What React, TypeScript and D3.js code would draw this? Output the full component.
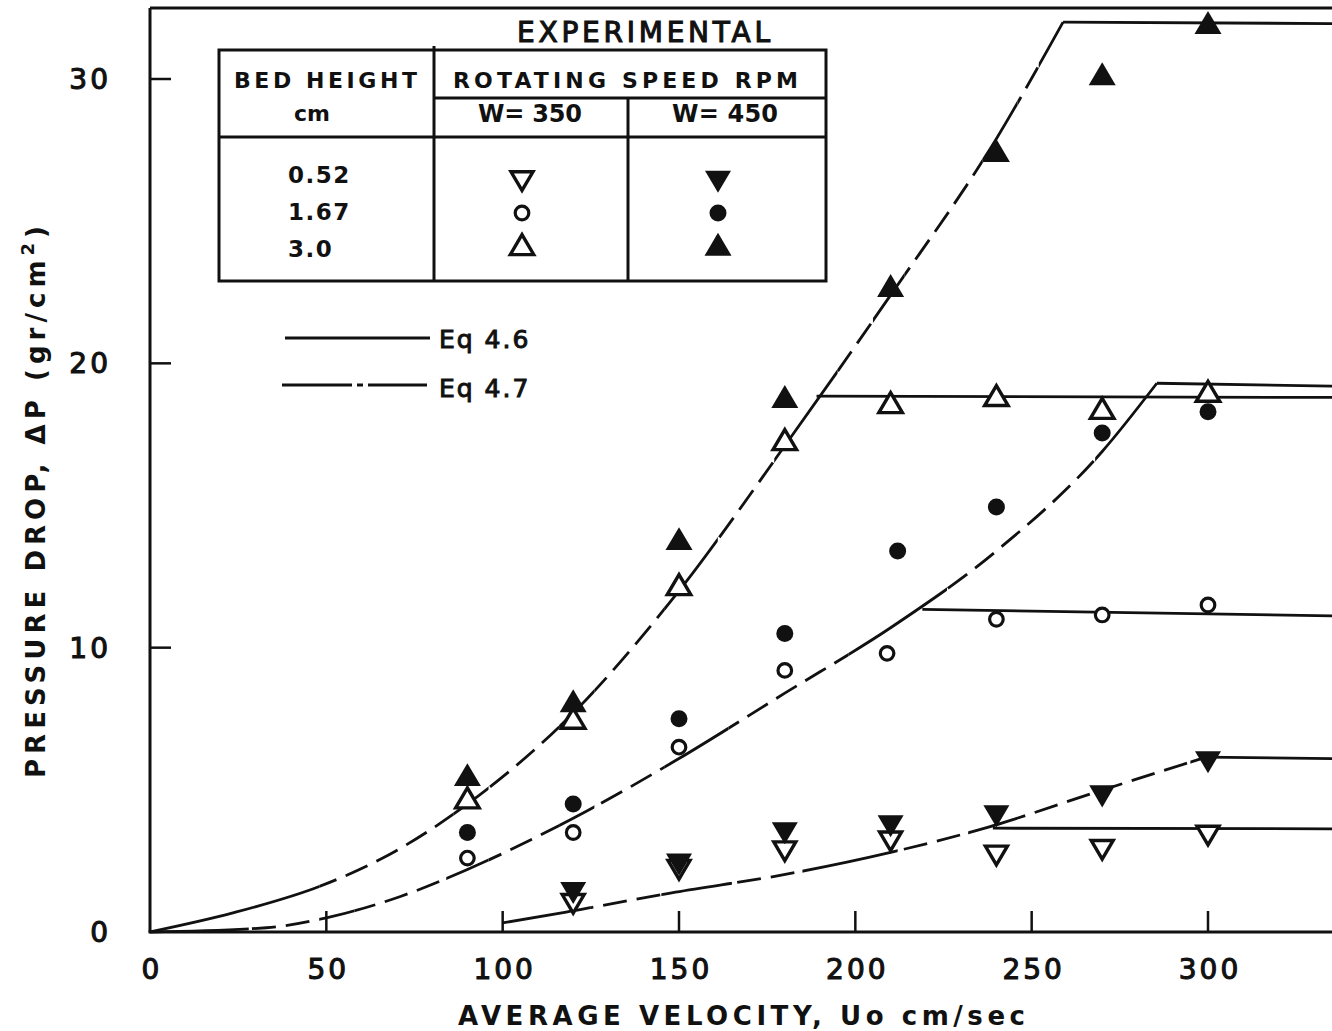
import React from 'react';
import * as d3 from 'd3';

// ---------- data ----------
const xTicks = [0, 50, 100, 150, 200, 250, 300];
const yTicks = [0, 10, 20, 30];

// Eq. curves (rising parts)
const curveA_u = [0, 23.5, 48, 66, 90, 120, 150, 180, 210, 240, 258.9];
const curveA_dp = [0, 0.67, 1.6, 2.6, 4.5, 7.7, 12.0, 17.1, 22.4, 27.9, 32.0];
const curveB_u = [0, 33, 50, 71, 90, 120, 150, 180, 210, 240, 270, 285.5];
const curveB_dp = [0, 0.15, 0.5, 1.25, 2.2, 4.0, 6.1, 8.4, 10.7, 13.4, 16.9, 19.3];
const curveE_u = [100, 118, 149, 179, 210, 238, 269, 299.5];
const curveE_dp = [0.32, 0.7, 1.4, 2.0, 2.8, 3.7, 4.95, 6.15];

// flat plateaus
const tailA_u = [258.9, 335.2];
const tailA_dp = [32.0, 31.95];
const tailB_u = [285.5, 335.2];
const tailB_dp = [19.3, 19.2];
const flatC_u = [189, 335.2];
const flatC_dp = [18.85, 18.8];
const flatD_u = [219, 335.2];
const flatD_dp = [11.35, 11.12];
const tailE_u = [299.5, 335.2];
const tailE_dp = [6.15, 6.1];
const flatE2_u = [239, 335.2];
const flatE2_dp = [3.65, 3.63];

// solid portions of the mixed solid/dashed curves (velocity ranges)
const solidA = [[0, 48], [86, 96], [116, 126], [146, 161], [177, 195], [205, 214], [236, 246], [252, 260]];
const solidB = [[0, 28], [48, 58], [84, 96], [116, 126], [146, 164], [198, 226], [268, 286]];
const solidE = [[100, 125], [145, 165], [185, 212], [232, 245], [295, 300]];

// experimental points
const u_all = [90, 120, 150, 180, 210, 240, 270, 300];
const u_low = [120, 150, 180, 210, 240, 270, 300];
const dnOpen_dp = [1.1, 2.3, 2.95, 3.3, 2.8, 3.0, 3.5];
const dnFill_dp = [1.5, 2.5, 3.6, 3.85, 4.2, 4.9, 6.1];
const circOpen_u = [90, 120, 150, 180, 209, 240, 270, 300];
const circOpen_dp = [2.6, 3.5, 6.5, 9.2, 9.8, 11.0, 11.15, 11.5];
const circFill_u = [90, 120, 150, 180, 212, 240, 270, 300];
const circFill_dp = [3.5, 4.5, 7.5, 10.5, 13.4, 14.95, 17.55, 18.3];
const triOpen_dp = [4.6, 7.4, 12.1, 17.2, 18.5, 18.75, 18.3, 18.9];
const triFill_dp = [5.4, 8.0, 13.7, 18.7, 22.6, 27.35, 30.05, 31.85];

const bedHeights = ['0.52', '1.67', '3.0'];

// ---------- helpers ----------
const x = d3.scaleLinear().domain([0, 300]).range([150, 1208]);
const y = d3.scaleLinear().domain([0, 30]).range([932, 79]);

const smooth = d3.line<[number, number]>().x(d => x(d[0])).y(d => y(d[1])).curve(d3.curveMonotoneX);
const straight = d3.line<[number, number]>().x(d => x(d[0])).y(d => y(d[1]));
const zip = (a: number[], b: number[]) => a.map((v, i) => [v, b[i]] as [number, number]);

function complement(r: number[][], lo: number, hi: number) {
  const out: number[][] = [];
  let cur = lo;
  r.forEach(([a, b]) => {
    if (a > cur) out.push([cur, a]);
    cur = Math.max(cur, b);
  });
  if (cur < hi) out.push([cur, hi]);
  return out;
}

function triPath(w: number, up: boolean) {
  const h = w * 0.85;
  const s = up ? 1 : -1;
  return `M0,${(-2 * h / 3) * s}L${-w / 2},${(h / 3) * s}L${w / 2},${(h / 3) * s}Z`;
}

const INK = '#111';
const FONT = '"DejaVu Sans", sans-serif';

function Marker({ kind, cx, cy }: { kind: string; cx: number; cy: number }) {
  switch (kind) {
    case 'triOpen':
      return <path d={triPath(23.5, true)} transform={`translate(${cx},${cy})`} fill="#fff" stroke={INK} strokeWidth={3.4} strokeLinejoin="miter" />;
    case 'triFill':
      return <path d={triPath(27, true)} transform={`translate(${cx},${cy})`} fill={INK} />;
    case 'dnOpen':
      return <path d={triPath(22, false)} transform={`translate(${cx},${cy})`} fill="#fff" stroke={INK} strokeWidth={3.4} />;
    case 'dnFill':
      return <path d={triPath(26, false)} transform={`translate(${cx},${cy})`} fill={INK} />;
    case 'circOpen':
      return <circle cx={cx} cy={cy} r={6.8} fill="#fff" stroke={INK} strokeWidth={3.2} />;
    default:
      return <circle cx={cx} cy={cy} r={8.5} fill={INK} />;
  }
}

function MixedCurve({ id, u, dp, solid, lo, hi }: { id: string; u: number[]; dp: number[]; solid: number[][]; lo: number; hi: number }) {
  const d = smooth(zip(u, dp)) as string;
  const dashed = complement(solid, lo, hi);
  return (
    <g>
      <defs>
        <clipPath id={`${id}-s`}>
          {solid.map(([a, b], i) => <rect key={i} x={x(a)} y={0} width={x(b) - x(a)} height={1031} />)}
        </clipPath>
        <clipPath id={`${id}-d`}>
          {dashed.map(([a, b], i) => <rect key={i} x={x(a)} y={0} width={x(b) - x(a)} height={1031} />)}
        </clipPath>
      </defs>
      <path d={d} fill="none" stroke={INK} strokeWidth={2.8} clipPath={`url(#${id}-s)`} />
      <path d={d} fill="none" stroke={INK} strokeWidth={2.8} strokeDasharray="24,10" clipPath={`url(#${id}-d)`} />
    </g>
  );
}

export default function App() {
  const flats = [
    zip(tailA_u, tailA_dp), zip(tailB_u, tailB_dp), zip(flatC_u, flatC_dp),
    zip(flatD_u, flatD_dp), zip(tailE_u, tailE_dp), zip(flatE2_u, flatE2_dp),
  ];
  const series = [
    { kind: 'dnOpen', u: u_low, dp: dnOpen_dp },
    { kind: 'circOpen', u: circOpen_u, dp: circOpen_dp },
    { kind: 'triOpen', u: u_all, dp: triOpen_dp },
    { kind: 'dnFill', u: u_low, dp: dnFill_dp },
    { kind: 'circFill', u: circFill_u, dp: circFill_dp },
    { kind: 'triFill', u: u_all, dp: triFill_dp },
  ];
  const xr = x(335.2);
  const tableSym = [['dnOpen', 'circOpen', 'triOpen'], ['dnFill', 'circFill', 'triFill']];
  const symY = [178, 213, 248];
  const valBase = [183, 220, 257];

  return (
    <svg width={1332} height={1031} style={{ position: 'absolute', left: 0, top: 0, background: '#fff' }} fontFamily={FONT}>
      <rect x={0} y={0} width={1332} height={1031} fill="#fff" />

      {/* frame */}
      <line x1={x(0)} y1={8} x2={xr} y2={8} stroke={INK} strokeWidth={3} />
      <line x1={x(0)} y1={8} x2={x(0)} y2={y(0)} stroke={INK} strokeWidth={3} />
      <line x1={x(0) - 1.5} y1={y(0)} x2={xr} y2={y(0)} stroke={INK} strokeWidth={3} />

      {/* ticks */}
      {yTicks.filter(t => t > 0).map(t => (
        <line key={`yt${t}`} x1={x(0)} x2={x(0) + 21} y1={y(t)} y2={y(t)} stroke={INK} strokeWidth={2.5} />
      ))}
      {xTicks.filter(t => t > 0).map(t => (
        <line key={`xt${t}`} x1={x(t)} x2={x(t)} y1={y(0)} y2={y(0) - 21} stroke={INK} strokeWidth={2.5} />
      ))}

      {/* tick labels */}
      {yTicks.map(t => (
        <text key={`yl${t}`} x={111} y={y(t) + 10} textAnchor="end" fontSize={28} letterSpacing={3} fill={INK} stroke={INK} strokeWidth={1.1}>{t}</text>
      ))}
      {xTicks.map(t => (
        <text key={`xl${t}`} x={x(t) + 2} y={979} textAnchor="middle" fontSize={28} letterSpacing={3} fill={INK} stroke={INK} strokeWidth={1.1}>{t}</text>
      ))}

      {/* axis titles */}
      <text x={458} y={1025} fontSize={26} fontWeight="bold" textLength={567} lengthAdjust="spacing" fill={INK}>AVERAGE VELOCITY, Uo cm/sec</text>
      <text transform="translate(45,778) rotate(-90)" fontSize={26} fontWeight="bold" textLength={552} lengthAdjust="spacing" fill={INK}>
        PRESSURE DROP, ΔP (gr/cm<tspan dy={-11} fontSize={18}>2</tspan><tspan dy={11}>)</tspan>
      </text>

      {/* Eq curves */}
      <MixedCurve id="cA" u={curveA_u} dp={curveA_dp} solid={solidA} lo={0} hi={258.9} />
      <MixedCurve id="cB" u={curveB_u} dp={curveB_dp} solid={solidB} lo={0} hi={285.5} />
      <MixedCurve id="cE" u={curveE_u} dp={curveE_dp} solid={solidE} lo={100} hi={299.5} />
      {flats.map((f, i) => (
        <path key={`f${i}`} d={straight(f) as string} fill="none" stroke={INK} strokeWidth={2.8} />
      ))}

      {/* points */}
      {series.map(s => s.u.map((u, i) => (
        <Marker key={`${s.kind}${i}`} kind={s.kind} cx={x(u)} cy={y(s.dp[i])} />
      )))}

      {/* legend table */}
      <text x={517} y={42} fontSize={28} textLength={253} lengthAdjust="spacing" fill={INK} stroke={INK} strokeWidth={1.1}>EXPERIMENTAL</text>
      <g stroke={INK} strokeWidth={3} fill="none">
        <rect x={219} y={50} width={607} height={231} />
        <line x1={434} y1={46} x2={434} y2={281} />
        <line x1={434} y1={98} x2={826} y2={98} />
        <line x1={219} y1={137} x2={826} y2={137} />
        <line x1={628} y1={98} x2={628} y2={281} />
      </g>
      <text x={234} y={88} fontSize={22} fontWeight="bold" textLength={183} lengthAdjust="spacing" fill={INK}>BED HEIGHT</text>
      <text x={312} y={121} fontSize={22} fontWeight="bold" textAnchor="middle" fill={INK}>cm</text>
      <text x={453} y={88} fontSize={22} fontWeight="bold" textLength={345} lengthAdjust="spacing" fill={INK}>ROTATING SPEED RPM</text>
      <text x={478} y={122} fontSize={24} fontWeight="bold" textLength={104} lengthAdjust="spacing" fill={INK}>W= 350</text>
      <text x={672} y={122} fontSize={24} fontWeight="bold" textLength={106} lengthAdjust="spacing" fill={INK}>W= 450</text>
      {bedHeights.map((b, i) => (
        <text key={b} x={288} y={valBase[i]} fontSize={23} fontWeight="bold" letterSpacing={1.5} fill={INK}>{b}</text>
      ))}
      {tableSym.map((col, c) => col.map((k, r) => (
        <Marker key={`ts${c}${r}`} kind={k} cx={c === 0 ? 522 : 718} cy={symY[r]} />
      )))}

      {/* line legend */}
      <line x1={285} y1={338} x2={430} y2={338} stroke={INK} strokeWidth={3} />
      <text x={439} y={348} fontSize={25} letterSpacing={2} fill={INK} stroke={INK} strokeWidth={1}>Eq  4.6</text>
      <line x1={282} y1={385} x2={427} y2={385} stroke={INK} strokeWidth={3} strokeDasharray="70,5,6,5,70" />
      <text x={439} y={397} fontSize={25} letterSpacing={2} fill={INK} stroke={INK} strokeWidth={1}>Eq  4.7</text>
    </svg>
  );
}
